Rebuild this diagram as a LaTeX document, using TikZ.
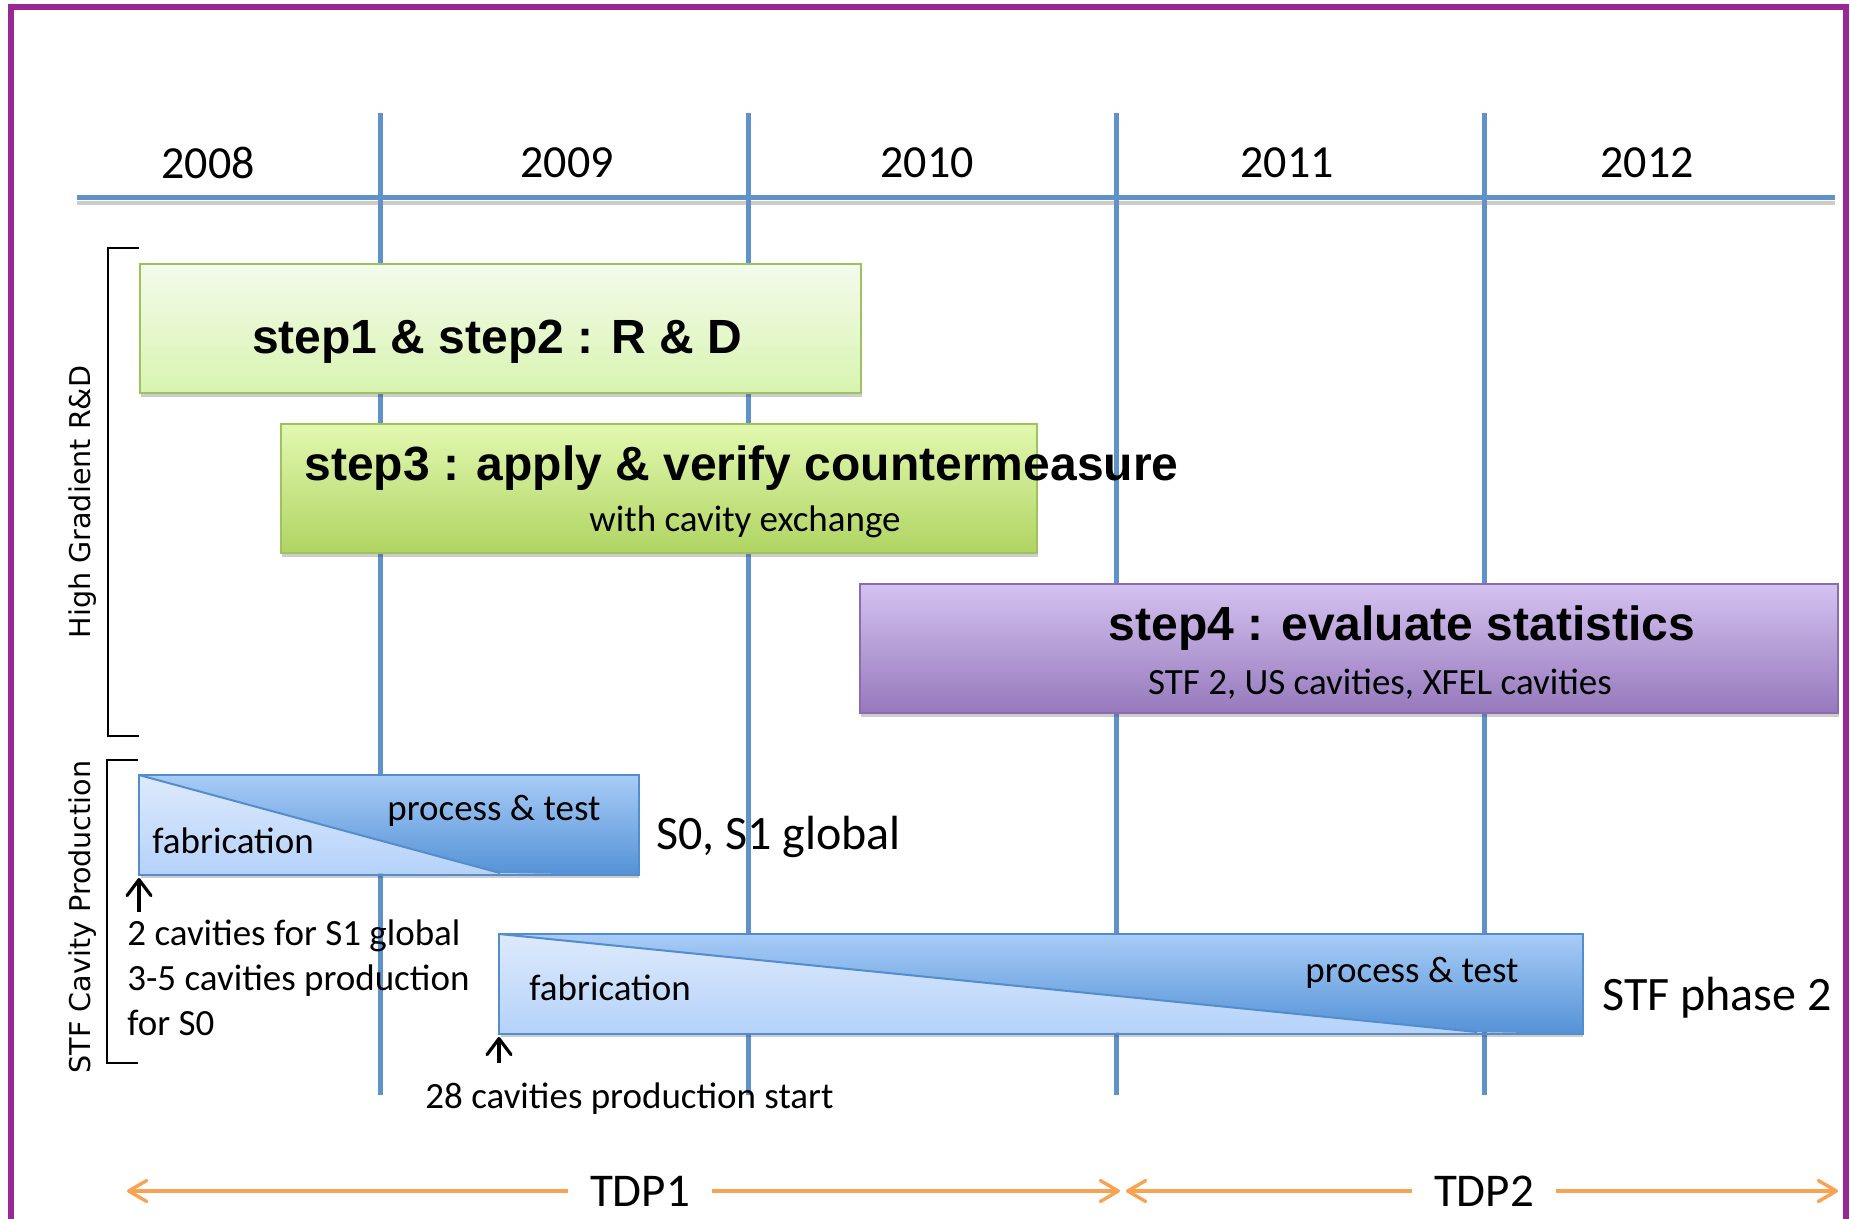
\documentclass[tikz,border=0pt]{standalone}
\usepackage{fontspec}
\setmainfont{Carlito}
\newfontfamily\stepfont{Liberation Sans}
\newfontfamily\sidefont{DejaVu Sans}
\usetikzlibrary{arrows.meta,shadows}

\definecolor{frameP}{RGB}{153,40,150}
\definecolor{gridB}{RGB}{95,146,200}
\definecolor{tdpO}{RGB}{249,162,82}
\definecolor{gOneTop}{RGB}{244,251,236}
\definecolor{gOneBot}{RGB}{216,244,176}
\definecolor{gThrTop}{RGB}{226,248,176}
\definecolor{gThrBot}{RGB}{176,212,98}
\definecolor{gEdge}{RGB}{158,194,94}
\definecolor{pTop}{RGB}{212,194,240}
\definecolor{pBot}{RGB}{150,121,188}
\definecolor{pEdge}{RGB}{138,108,176}
\definecolor{bLoTop}{RGB}{222,234,252}
\definecolor{bLoBot}{RGB}{180,210,250}
\definecolor{bHiTop}{RGB}{168,204,247}
\definecolor{bHiBot}{RGB}{84,146,214}
\definecolor{bEdge}{RGB}{84,141,205}

\tikzset{
  gridline/.style={draw=gridB, line width=2.5pt},
  yearlbl/.style={font=\fontsize{23}{27}\selectfont, inner sep=0pt},
  boxshadow/.style={drop shadow={shadow xshift=0.6pt, shadow yshift=-2pt, opacity=0.28, fill=black!70}},
  phasebox/.style={anchor=north west, inner sep=0pt, line width=1pt, boxshadow},
  steptitle/.style={font=\stepfont\bfseries\fontsize{24}{28}\selectfont, inner sep=0pt},
  subtitle/.style={font=\fontsize{18.5}{22}\selectfont, inner sep=0pt},
  bigcap/.style={font=\fontsize{24}{28}\selectfont, inner sep=0pt},
  note/.style={font=\fontsize{18.5}{22}\selectfont, inner sep=0pt, anchor=base west},
  sidelabel/.style={font=\sidefont\fontsize{14.3}{17}\selectfont, inner sep=0pt, rotate=90},
  bracketline/.style={draw=black, line width=1.2pt},
  startarrow/.style={draw=black, line width=1.6pt, -{Straight Barb[length=8pt,width=12pt,round]}},
  tdparrow/.style={draw=tdpO, line width=1.7pt, -{Straight Barb[length=9pt,width=10.5pt,round]}},
  tdplbl/.style={font=\fontsize{23.5}{28}\selectfont, inner xsep=11pt, inner ysep=0pt},
}

\begin{document}
\begin{tikzpicture}[x=0.5pt,y=-0.5pt]
\useasboundingbox (0,0) rectangle (1850,1219);

% outer frame, open at the bottom edge
\begin{scope}
  \clip (0,0) rectangle (1850,1219);
  \draw[frameP, line width=2.6pt] (11,7) rectangle (1846,1270);
\end{scope}

% year grid
\draw[black!20, line width=2pt] (77,203) -- (1835,203);
\draw[gridline] (77,198) -- (1835,198);
\foreach \gx in {380,748,1116,1484}{
  \draw[gridline] (\gx,113) -- (\gx,1095);
}
\node[yearlbl] (y2008) at (208,163) {2008};
\node[yearlbl] (y2009) at (567,163) {2009};
\node[yearlbl] (y2010) at (927,163) {2010};
\node[yearlbl] (y2011) at (1287,163) {2011};
\node[yearlbl] (y2012) at (1647,163) {2012};

% group brackets and their labels
\coordinate (hgTop) at (139,248);
\coordinate (hgBot) at (139,736);
\draw[bracketline] (hgTop) -- (108,248) -- (108,736) -- (hgBot);
\node[sidelabel] (hgLabel) at (83,502) {High Gradient R\&D};

\coordinate (stTop) at (138,760);
\coordinate (stBot) at (138,1063);
\draw[bracketline] (stTop) -- (107,760) -- (107,1063) -- (stBot);
\node[sidelabel] (stLabel) at (83,917) {STF Cavity Production};

% R&D steps
\node[phasebox, draw=gEdge, top color=gOneTop, bottom color=gOneBot,
      minimum width=360.5pt, minimum height=64.5pt] (stepA) at (139,263) {};
\node[steptitle, anchor=base] (stepAtitle) at (497,353) {step1 \& step2 : R \& D};

\node[phasebox, draw=gEdge, top color=gThrTop, bottom color=gThrBot,
      minimum width=378pt, minimum height=64.5pt] (stepB) at (280,423) {};
\node[steptitle, anchor=base west] (stepBtitle) at (304,480) {step3 : apply \& verify countermeasure};
\node[subtitle, anchor=base] (stepBsub) at (745,531) {with cavity exchange};

\node[phasebox, draw=pEdge, top color=pTop, bottom color=pBot,
      minimum width=489pt, minimum height=64.5pt] (stepC) at (859,583) {};
\node[steptitle, anchor=base] (stepCtitle) at (1402,640) {step4 : evaluate statistics};
\node[subtitle, anchor=base] (stepCsub) at (1380,694) {STF 2, US cavities, XFEL cavities};

% cavity production: S0 / S1 global
\node[phasebox, minimum width=249pt, minimum height=49pt] (prodA) at (139,775) {};
\coordinate (prodAcut) at (500,873);
\shade[top color=bLoTop, bottom color=bLoBot] (prodA.north west) -- (prodAcut) -- (prodA.south west) -- cycle;
\shade[top color=bHiTop, bottom color=bHiBot] (prodA.north west) -- (prodA.north east) -- (prodA.south east) -- (prodAcut) -- cycle;
\draw[bEdge, line width=1pt] (prodA.north west) rectangle (prodA.south east);
\draw[bEdge, line width=1pt] (prodA.north west) -- (prodAcut);
\node[subtitle, anchor=base west] (prodAfab) at (152,853) {fabrication};
\node[subtitle, anchor=base west] (prodAtest) at (387,820) {process \& test};
\node[bigcap, anchor=base west] (prodAname) at (656,849) {S0, S1 global};

% cavity production: STF phase 2
\node[phasebox, minimum width=541pt, minimum height=49pt] (prodB) at (499,934) {};
\coordinate (prodBcut) at (1477,1032);
\shade[top color=bLoTop, bottom color=bLoBot] (prodB.north west) -- (prodBcut) -- (prodB.south west) -- cycle;
\shade[top color=bHiTop, bottom color=bHiBot] (prodB.north west) -- (prodB.north east) -- (prodB.south east) -- (prodBcut) -- cycle;
\draw[bEdge, line width=1pt] (prodB.north west) rectangle (prodB.south east);
\draw[bEdge, line width=1pt] (prodB.north west) -- (prodBcut);
\node[subtitle, anchor=base west] (prodBfab) at (529,1000) {fabrication};
\node[subtitle, anchor=base west] (prodBtest) at (1305,982) {process \& test};
\node[bigcap, anchor=base west] (prodBname) at (1602,1010) {STF phase 2};

% production start markers
\coordinate (startA) at (139,912);
\draw[startarrow, shorten >=1.5pt] (startA) -- (prodA.south west);
\node[note] (noteA1) at (127,945) {2 cavities for S1 global};
\node[note] (noteA2) at (127,990) {3-5 cavities production};
\node[note] (noteA3) at (127,1035) {for S0};

\coordinate (startB) at (499,1063);
\draw[startarrow, shorten >=1.5pt] (startB) -- (prodB.south west);
\node[note] (noteB) at (425,1108) {28 cavities production start};

% TDP periods
\coordinate (tdpOneL) at (127,1191);
\coordinate (tdpOneR) at (1120,1191);
\coordinate (tdpTwoL) at (1126,1191);
\coordinate (tdpTwoR) at (1838,1191);
\node[tdplbl] (tdpOne) at (640,1191) {TDP1};
\node[tdplbl] (tdpTwo) at (1484,1191) {TDP2};
\draw[tdparrow] (tdpOne) -- (tdpOneL);
\draw[tdparrow] (tdpOne) -- (tdpOneR);
\draw[tdparrow] (tdpTwo) -- (tdpTwoL);
\draw[tdparrow] (tdpTwo) -- (tdpTwoR);
\end{tikzpicture}
\end{document}
